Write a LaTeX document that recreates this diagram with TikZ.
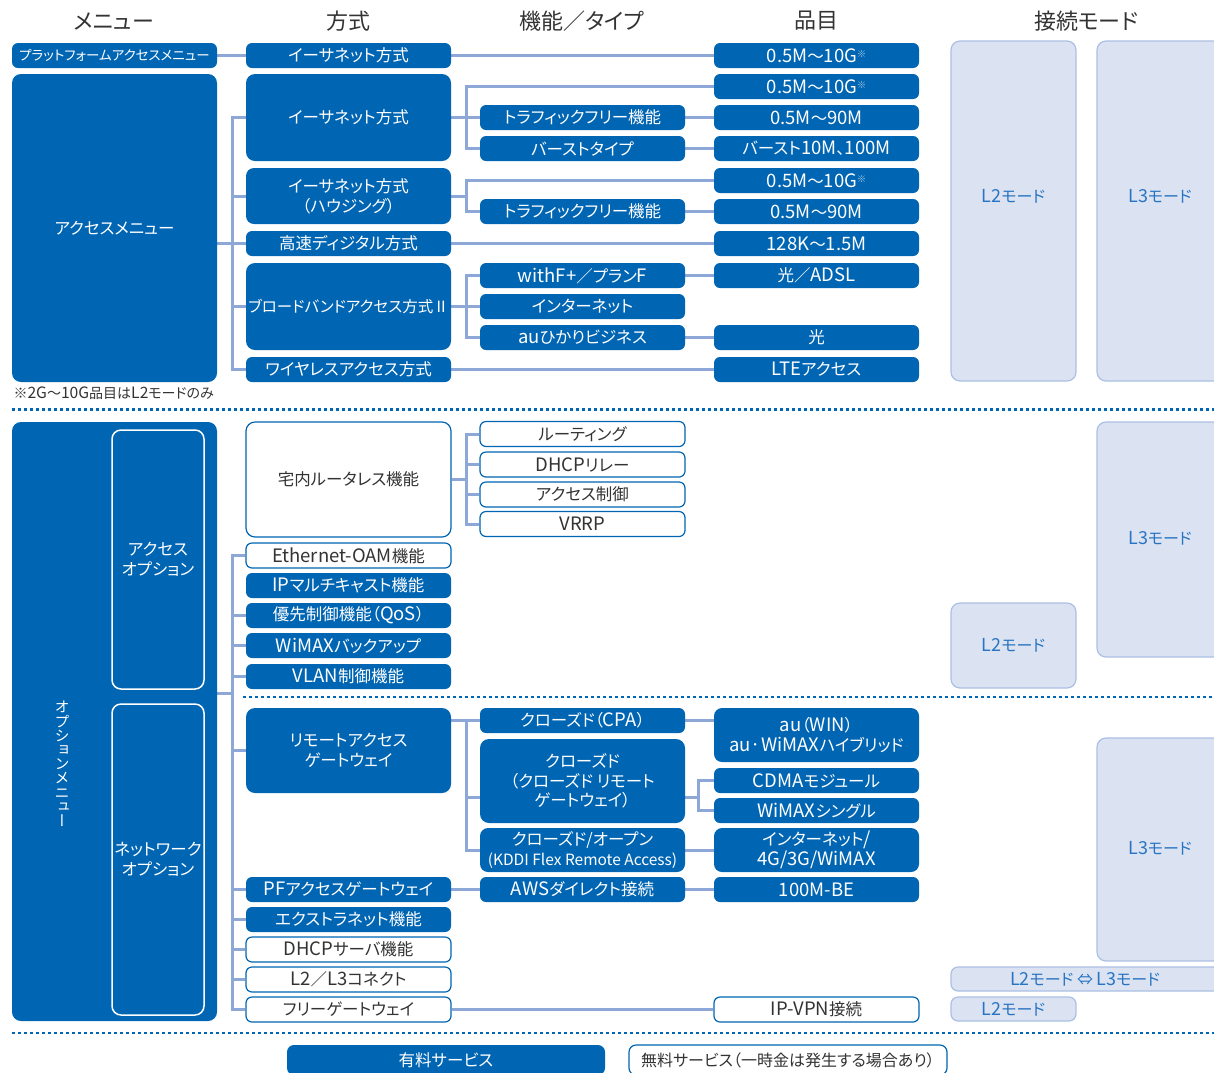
\documentclass[tikz,border=0pt]{standalone}
\usepackage{fontspec}
\setmainfont[RawFeature=+palt]{Noto Sans CJK JP}
\newfontfamily\vertjp[RawFeature=+vert]{Noto Sans CJK JP}
\usetikzlibrary{backgrounds}

\definecolor{kblue}{RGB}{0,101,179}
\definecolor{linkblue}{RGB}{141,168,215}
\definecolor{modefill}{RGB}{219,227,242}
\definecolor{modeline}{RGB}{170,191,228}
\definecolor{modetext}{RGB}{40,116,194}
\definecolor{inkgray}{RGB}{51,51,51}

\makeatletter
\newcommand{\fsz}[1]{\fontsize{#1}{20}\selectfont}
% latin runs are set a little larger, as in the original
\newcommand{\la}[1]{{\fontsize{\fpeval{\f@size*1.12}}{20}\selectfont#1}}
\makeatother
\newcommand{\starnote}{\raisebox{5pt}{\fontsize{9}{9}\selectfont\color{white!70!kblue}※}}

\tikzset{
  box/.style={rounded corners=6, minimum width=205, minimum height=25, inner sep=0pt,
    align=center, font=\fsz{16.5}},
  pay/.style={box, fill=kblue, text=white},
  free/.style={box, fill=white, draw=kblue, line width=1.2pt, text=inkgray},
  modebox/.style={rounded corners=9, fill=modefill, draw=modeline, line width=1.2pt,
    text=modetext, inner sep=0pt, font=\fsz{16}},
  modelabel/.style={text=modetext, font=\fsz{16}},
  colhead/.style={text=inkgray, font=\fsz{22}},
  link/.style={linkblue, line width=3pt},
  sepline/.style={kblue, line width=2.6pt, dash pattern=on 3pt off 3pt},
}

\begin{document}
\begin{tikzpicture}[x=1pt, y=-1pt]
  \useasboundingbox (0,0) rectangle (1214,1072);

  % column heads
  \node[colhead] (hmenu) at (114,21) {メニュー};
  \node[colhead] (hway) at (348,21) {方式};
  \node[colhead] (hfunc) at (582,21) {機能／タイプ};
  \node[colhead] (hitem) at (816,21) {品目};
  \node[colhead] (hmode) at (1086,21) {接続モード};

  % access menus
  \node[pay, font=\fsz{13.5}] (plat) at (114.5,55.5) {プラットフォームアクセスメニュー};
  \node[pay, minimum height=308, rounded corners=9] (acc) at (114.5,228) {アクセスメニュー};

  \node[pay] (eth1) at (348.5,55.5) {イーサネット方式};
  \node[pay, minimum height=87, rounded corners=9] (eth2) at (348.5,117.5) {イーサネット方式};
  \node[pay, minimum height=56, rounded corners=8] (eth3) at (348.5,196) {イーサネット方式\\（ハウジング）};
  \node[pay] (hsd) at (348.5,243.5) {高速ディジタル方式};
  \node[pay, minimum height=87, rounded corners=9, font=\fsz{15.5}] (bb) at (348.5,306.5) {ブロードバンドアクセス方式Ⅱ};
  \node[pay] (wl) at (348.5,369.5) {ワイヤレスアクセス方式};

  \node[pay] (tf1) at (582.5,117.5) {トラフィックフリー機能};
  \node[pay] (burst) at (582.5,148.5) {バーストタイプ};
  \node[pay] (tf2) at (582.5,211.5) {トラフィックフリー機能};
  \node[pay] (withf) at (582.5,275.5) {\la{withF+}／プラン\la{F}};
  \node[pay] (inet) at (582.5,306.5) {インターネット};
  \node[pay] (auh) at (582.5,337.5) {\la{au}ひかりビジネス};

  \foreach \n/\y/\t in {qa/55.5/\la{0.5M}～\la{10G}\starnote, qb/86.5/\la{0.5M}～\la{10G}\starnote,
      qc/117.5/\la{0.5M}～\la{90M}, qd/148.5/バースト\la{10M}、\la{100M},
      qe/180.5/\la{0.5M}～\la{10G}\starnote, qf/211.5/\la{0.5M}～\la{90M},
      qg/243.5/\la{128K}～\la{1.5M}, qh/275.5/光／\la{ADSL}, qi/337.5/光,
      qj/369.5/\la{LTE}アクセス}
    \node[pay] (\n) at (816.5,\y) {\t};

  \node[modebox, minimum width=125, minimum height=340] (l2a) at (1013.5,211) {};
  \node[modelabel] (l2at) at (1013.5,196) {\la{L2}モード};
  \node[modebox, minimum width=133, minimum height=340] (l3a) at (1163.5,211) {};
  \node[modelabel] (l3at) at (1160,196) {\la{L3}モード};

  \node[anchor=west, text=inkgray, font=\fsz{14}] (fnote) at (10,393.5) {※\la{2G}～\la{10G}品目は\la{L2}モードのみ};

  % separators
  \draw[sepline] (12,409.5) -- (1214,409.5);
  \draw[sepline] (243,697) -- (1214,697);
  \draw[sepline] (12,1033) -- (1214,1033);

  % option menus
  \node[pay, minimum height=599, rounded corners=9] (opt) at (114.5,721.5) {};
  \node[text=white, align=center, font=\vertjp\fontsize{15}{14.2}\selectfont] (optv) at (62,764)
    {オ\\プ\\シ\\ョ\\ン\\メ\\ニ\\ュ\\ー};
  \node[pay, draw=white, line width=1.5pt, minimum width=92, minimum height=259, rounded corners=9] (aopt)
    at (158,559.5) {アクセス\\オプション};
  \node[pay, draw=white, line width=1.5pt, minimum width=92, minimum height=311, rounded corners=9] (nopt)
    at (158,859.5) {ネットワーク\\オプション};

  \node[free, minimum height=115, rounded corners=9] (rtl) at (348.5,479.5) {宅内ルータレス機能};
  \node[free] (oam) at (348.5,555.5) {\la{Ethernet-OAM}機能};
  \node[pay] (ipm) at (348.5,585.5) {\la{IP}マルチキャスト機能};
  \node[pay] (qos) at (348.5,615.5) {優先制御機能（\la{QoS}）};
  \node[pay] (wbk) at (348.5,645.5) {\la{WiMAX}バックアップ};
  \node[pay] (vlan) at (348.5,676.5) {\la{VLAN}制御機能};
  \node[pay, minimum height=85, rounded corners=9] (rag) at (348.5,750.5) {リモートアクセス\\ゲートウェイ};
  \node[pay] (pfg) at (348.5,889.5) {\la{PF}アクセスゲートウェイ};
  \node[pay] (ext) at (348.5,919.5) {エクストラネット機能};
  \node[free] (dhcps) at (348.5,949.5) {\la{DHCP}サーバ機能};
  \node[free] (l2l3) at (348.5,979.5) {\la{L2}／\la{L3}コネクト};
  \node[free] (fgw) at (348.5,1009.5) {フリーゲートウェイ};

  \node[free] (rt) at (582.5,434) {ルーティング};
  \node[free] (dhr) at (582.5,464.5) {\la{DHCP}リレー};
  \node[free] (acl) at (582.5,494.5) {アクセス制御};
  \node[free] (vrrp) at (582.5,524) {\la{VRRP}};
  \node[pay] (cpa) at (582.5,720.5) {クローズド（\la{CPA}）};
  \node[pay, minimum height=84, rounded corners=9, font=\fontsize{16.5}{19.5}\selectfont] (cls) at (582.5,781)
    {クローズド\\（クローズド リモート\\ゲートウェイ）};
  \node[pay, minimum height=44, rounded corners=8] (cfo) at (582.5,850)
    {クローズド/オープン\\{\fsz{15.5}(KDDI Flex Remote Access)}};
  \node[pay] (aws) at (582.5,889.5) {\la{AWS}ダイレクト接続};

  \node[pay, minimum height=54, rounded corners=8] (auw) at (816.5,735) {\la{au}（\la{WIN}）\\\la{au·WiMAX}ハイブリッド};
  \node[pay] (cdma) at (816.5,780.5) {\la{CDMA}モジュール};
  \node[pay] (wsg) at (816.5,810.5) {\la{WiMAX}シングル};
  \node[pay, minimum height=44, rounded corners=8] (i4g) at (816.5,850) {インターネット\la{/}\\\la{4G/3G/WiMAX}};
  \node[pay] (be) at (816.5,889.5) {\la{100M-BE}};
  \node[free] (vpn) at (816.5,1009.5) {\la{IP-VPN}接続};

  \node[modebox, minimum width=133, minimum height=235] (l3b) at (1163.5,539.5) {};
  \node[modelabel] (l3bt) at (1160,538) {\la{L3}モード};
  \node[modebox, minimum width=125, minimum height=85] (l2b) at (1013.5,645.5) {\la{L2}モード};
  \node[modebox, minimum width=133, minimum height=223] (l3c) at (1163.5,849.5) {};
  \node[modelabel] (l3ct) at (1160,848) {\la{L3}モード};
  \node[modebox, minimum width=278, minimum height=24, rounded corners=7] (l23) at (1090,979) {};
  \node[modelabel] (l23t) at (1085,979) {\la{L2}モード ⇔ \la{L3}モード};
  \node[modebox, minimum width=125, minimum height=24, rounded corners=7] (l2c) at (1013.5,1009) {\la{L2}モード};

  % legend
  \node[pay, minimum width=318, minimum height=30, rounded corners=7] (lpay) at (446,1060) {有料サービス};
  \node[free, minimum width=318, minimum height=30, rounded corners=7, font=\fsz{16}] (lfree) at (788,1060)
    {無料サービス（一時金は発生する場合あり）};

  % connectors
  \begin{pgfonlayer}{background}
    \coordinate (abus) at (232,0);
    \coordinate (fbus) at (466,0);
    \coordinate (ibus) at (698,0);
    \draw[link] (plat) -- (eth1) -- (qa);
    \draw[link] (eth2.west) -| (abus |- wl.west) -- (wl.west);
    \foreach \n in {eth3,hsd,bb}
      \draw[link] (abus |- \n.west) -- (\n.west);
    \draw[link] (acc.east |- hsd.west) -- (abus |- hsd.west);
    \draw[link] (qb.west) -| (fbus |- burst.west) -- (burst.west);
    \draw[link] (eth2) -- (tf1) -- (qc);
    \draw[link] (burst) -- (qd);
    \draw[link] (qe.west) -| (fbus |- tf2.west) -- (tf2.west);
    \draw[link] (eth3.east) -- (fbus |- eth3.east);
    \draw[link] (tf2) -- (qf);
    \draw[link] (hsd) -- (qg);
    \draw[link] (withf.west) -| (fbus |- auh.west) -- (auh.west);
    \draw[link] (bb) -- (inet);
    \draw[link] (withf) -- (qh);
    \draw[link] (auh) -- (qi);
    \draw[link] (wl) -- (qj);

    \coordinate (ojoin) at (232,693);
    \coordinate (clsy) at (0,797);
    \draw[link] (oam.west) -| (abus |- fgw.west) -- (fgw.west);
    \foreach \n in {qos,wbk,vlan,rag,pfg,ext,dhcps,l2l3}
      \draw[link] (abus |- \n.west) -- (\n.west);
    \draw[link] (opt.east |- ojoin) -- (ojoin);
    \draw[link] (rt.west) -| (fbus |- vrrp.west) -- (vrrp.west);
    \foreach \n in {dhr,acl}
      \draw[link] (fbus |- \n.west) -- (\n.west);
    \draw[link] (rtl.east) -- (fbus |- rtl.east);
    \draw[link] (rag.east |- cpa.west) -- (cpa.west);
    \draw[link] (fbus |- cpa.west) -- (fbus |- cfo.west) -- (cfo.west);
    \draw[link] (fbus |- clsy) -- (cls.west |- clsy);
    \draw[link] (cpa.east) -- (auw.west |- cpa.east);
    \draw[link] (cls.east |- clsy) -- (ibus |- clsy);
    \draw[link] (cdma.west) -| (ibus |- wsg.west) -- (wsg.west);
    \draw[link] (cfo) -- (i4g);
    \draw[link] (pfg) -- (aws) -- (be);
    \draw[link] (fgw) -- (vpn);
  \end{pgfonlayer}
\end{tikzpicture}
\end{document}
